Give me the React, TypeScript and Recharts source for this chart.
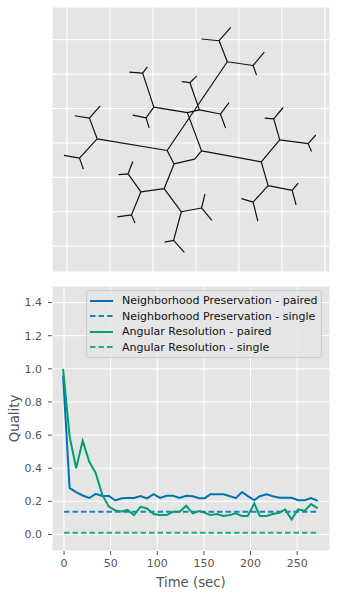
import React from "react";
import {
  CartesianGrid,
  Label,
  Legend,
  Line,
  LineChart,
  XAxis,
  YAxis,
} from "recharts";

// ---- tree drawing (top panel) ----
const treeNodes: [string, number, number][] = [
  ["A", -0.67, -0.22],
  ["B", -0.51, -0.61],
  ["C", -0.03, -0.47],
  ["E", 0.13, -0.23],
  ["P", -0.2, 0.88],
  ["Q", 0.08, 0.96],
  ["Qt", -0.14, 1.75],
  ["Qt1", -0.33, 1.78],
  ["Qt2", 0.02, 1.95],
  ["Qr", 0.57, 0.84],
  ["Qr1", 0.77, 1.17],
  ["Qr2", 0.69, 0.43],
  ["UL", -0.98, 1.04],
  ["ULu", -1.24, 2.03],
  ["ULu1", -1.55, 2.06],
  ["ULu2", -1.13, 2.21],
  ["ULd", -1.16, 0.73],
  ["ULd1", -1.47, 0.81],
  ["ULd2", -1.09, 0.44],
  ["L", -2.3, 0.12],
  ["Lu", -2.48, 0.72],
  ["Lu1", -2.82, 0.79],
  ["Lu2", -2.23, 1.08],
  ["Ld", -2.71, -0.44],
  ["Ld1", -3.07, -0.36],
  ["Ld2", -2.62, -0.76],
  ["T", 0.73, 2.36],
  ["Tu", 0.54, 2.97],
  ["Tu1", 0.13, 3.02],
  ["Tu2", 0.81, 3.36],
  ["Tr", 1.33, 2.25],
  ["Tr1", 1.59, 2.64],
  ["Tr2", 1.41, 1.97],
  ["R", 1.52, -0.55],
  ["Ru", 1.95, 0.09],
  ["Ruu", 1.81, 0.7],
  ["Ruu1", 1.6, 0.72],
  ["Ruu2", 2.03, 1.03],
  ["Rur", 2.61, -0.02],
  ["Rur1", 2.79, 0.23],
  ["Rur2", 2.69, -0.25],
  ["Rd", 1.68, -1.24],
  ["Rdr", 2.24, -1.38],
  ["Rdr1", 2.38, -1.17],
  ["Rdr2", 2.33, -1.8],
  ["Rdl", 1.33, -1.72],
  ["Rdl1", 1.06, -1.62],
  ["Rdl2", 1.44, -2.27],
  ["D", -0.74, -1.33],
  ["Dl", -1.28, -1.42],
  ["Dlu", -1.58, -0.9],
  ["Dlu1", -1.8, -0.92],
  ["Dlu2", -1.47, -0.54],
  ["Dld", -1.5, -2.09],
  ["Dld1", -1.83, -2.15],
  ["Dld2", -1.42, -2.33],
  ["Dr", -0.34, -2.0],
  ["Drr", 0.13, -1.89],
  ["Drr1", 0.21, -1.49],
  ["Drr2", 0.37, -2.25],
  ["Drd", -0.52, -2.83],
  ["Drd1", -0.73, -2.88],
  ["Drd2", -0.27, -3.18],
];

const treeEdges = [
  "A-L", "A-T", "A-B", "B-C", "C-E", "B-D", "E-R", "E-P", "P-UL", "P-Q",
  "Q-Qt", "Qt-Qt1", "Qt-Qt2", "Q-Qr", "Qr-Qr1", "Qr-Qr2",
  "UL-ULu", "ULu-ULu1", "ULu-ULu2", "UL-ULd", "ULd-ULd1", "ULd-ULd2",
  "L-Lu", "Lu-Lu1", "Lu-Lu2", "L-Ld", "Ld-Ld1", "Ld-Ld2",
  "T-Tu", "Tu-Tu1", "Tu-Tu2", "T-Tr", "Tr-Tr1", "Tr-Tr2",
  "R-Ru", "Ru-Ruu", "Ruu-Ruu1", "Ruu-Ruu2", "Ru-Rur", "Rur-Rur1", "Rur-Rur2",
  "R-Rd", "Rd-Rdr", "Rdr-Rdr1", "Rdr-Rdr2", "Rd-Rdl", "Rdl-Rdl1", "Rdl-Rdl2",
  "D-Dl", "Dl-Dlu", "Dlu-Dlu1", "Dlu-Dlu2", "Dl-Dld", "Dld-Dld1", "Dld-Dld2",
  "D-Dr", "Dr-Drr", "Drr-Drr1", "Drr-Drr2", "Dr-Drd", "Drd-Drd1", "Drd-Drd2",
];

const treeTicks = [-3, -2, -1, 0, 1, 2, 3];

// ---- quality over time (bottom panel) ----
const times = [
  -1, 6, 13, 20, 27, 34, 41, 48, 55, 62, 68, 75, 82, 89, 96, 103, 110, 117,
  124, 131, 138, 145, 151, 157, 164, 171, 178, 184, 191, 197, 204, 210, 217,
  224, 231, 237, 244, 251, 258, 265, 272,
];
const npPaired = [
  0.96, 0.28, 0.255, 0.235, 0.22, 0.245, 0.232, 0.232, 0.205, 0.218, 0.22,
  0.22, 0.232, 0.218, 0.243, 0.221, 0.233, 0.233, 0.221, 0.233, 0.231, 0.219,
  0.219, 0.243, 0.243, 0.243, 0.231, 0.219, 0.256, 0.231, 0.207, 0.231, 0.243,
  0.231, 0.221, 0.221, 0.221, 0.207, 0.207, 0.219, 0.203,
];
const arPaired = [
  1.0, 0.59, 0.4, 0.565, 0.44, 0.37, 0.24, 0.168, 0.145, 0.138, 0.148, 0.117,
  0.167, 0.157, 0.123, 0.117, 0.117, 0.137, 0.137, 0.173, 0.127, 0.141, 0.131,
  0.117, 0.123, 0.111, 0.117, 0.127, 0.111, 0.111, 0.187, 0.111, 0.111, 0.123,
  0.131, 0.151, 0.091, 0.151, 0.143, 0.183, 0.157,
];
const singleTimes = [0, 272];
const npSingle = [0.137, 0.137];
const arSingle = [0.01, 0.01];

const xTicks = [0, 50, 100, 150, 200, 250];
const yTicks = [0, 0.2, 0.4, 0.6, 0.8, 1.0, 1.2, 1.4];

const seriesLabels = [
  "Neighborhood Preservation - paired",
  "Neighborhood Preservation - single",
  "Angular Resolution - paired",
  "Angular Resolution - single",
];
const seriesColors = ["#0072B2", "#1f7fc2", "#009E73", "#23a987"];
const seriesDashed = [false, true, false, true];

const FONT = "'DejaVu Sans', sans-serif";
const BG = "#E5E5E5";
const DASH = "5.5 3";

const nodeMap = new Map(treeNodes.map(([id, x, y]) => [id, { x, y }]));
const treeLine = treeEdges.flatMap((e) => {
  const [a, b] = e.split("-").map((id) => nodeMap.get(id)!);
  return [
    { x: a.x, y: a.y },
    { x: b.x, y: b.y },
    { x: b.x, y: null },
  ];
});

const pairedRows = times.map((t, i) => ({ t, np: npPaired[i], ar: arPaired[i] }));
const singleRows = singleTimes.map((t, i) => ({ t, np: npSingle[i], ar: arSingle[i] }));

const tickStyle = { fill: "#555", fontSize: 11, fontFamily: FONT };
const hiddenTick = { fill: "none", fontSize: 1 };

const LegendBox = () => (
  <div
    style={{
      width: 236,
      boxSizing: "border-box",
      padding: "2px 0 2px 3px",
      background: "rgba(229,229,229,0.8)",
      border: "1px solid #ccc",
      borderRadius: 3,
      fontFamily: FONT,
      fontSize: 11,
      color: "#111",
    }}
  >
    {seriesLabels.map((label, i) => (
      <div key={label} style={{ display: "flex", alignItems: "center", height: 15.5 }}>
        <svg width={32} height={8} style={{ flexShrink: 0 }}>
          <line
            x1={0}
            x2={23}
            y1={4}
            y2={4}
            stroke={seriesColors[i]}
            strokeWidth={2}
            strokeDasharray={seriesDashed[i] ? DASH : undefined}
          />
        </svg>
        <span style={{ whiteSpace: "nowrap" }}>{label}</span>
      </div>
    ))}
  </div>
);

const App = () => {
  return (
    <div
      style={{
        position: "absolute",
        left: 0,
        top: 0,
        width: 337,
        height: 594,
        background: "#fff",
        fontFamily: FONT,
      }}
    >
      <div style={{ position: "absolute", left: 0, top: 0 }}>
        <LineChart width={337} height={273} margin={{ top: 7, right: 7, bottom: 0, left: 51 }}>
          <CartesianGrid stroke="#fff" strokeWidth={1} fill={BG} />
          <XAxis
            dataKey="x"
            type="number"
            domain={[-3.35, 3.12]}
            ticks={treeTicks}
            allowDataOverflow
            height={1}
            tick={hiddenTick}
            tickFormatter={() => ""}
            axisLine={false}
            tickLine={false}
          />
          <YAxis
            dataKey="y"
            type="number"
            domain={[-3.75, 3.95]}
            ticks={treeTicks}
            allowDataOverflow
            width={1}
            tick={hiddenTick}
            tickFormatter={() => ""}
            axisLine={false}
            tickLine={false}
          />
          <Line
            data={treeLine}
            dataKey="y"
            stroke="#111"
            strokeWidth={1.2}
            dot={false}
            activeDot={false}
            connectNulls={false}
            isAnimationActive={false}
          />
        </LineChart>
      </div>

      <div style={{ position: "absolute", left: 0, top: 270 }}>
        <LineChart width={337} height={324} margin={{ top: 16, right: 7, bottom: 0, left: 0 }}>
          <CartesianGrid stroke="#fff" strokeWidth={1} fill={BG} />
          <XAxis
            dataKey="t"
            type="number"
            domain={[-12.9, 285.2]}
            ticks={xTicks}
            allowDataOverflow
            height={43}
            tick={tickStyle}
            tickSize={4}
            tickMargin={4}
            axisLine={false}
            tickLine={{ stroke: "#555" }}
          >
            <Label
              content={({ viewBox }: any) => (
                <text
                  x={viewBox.x + viewBox.width / 2}
                  y={viewBox.y + 36}
                  textAnchor="middle"
                  fill="#555"
                  fontSize={13.3}
                  fontFamily={FONT}
                >
                  Time (sec)
                </text>
              )}
            />
          </XAxis>
          <YAxis
            type="number"
            domain={[-0.1, 1.5]}
            ticks={yTicks}
            allowDataOverflow
            width={52}
            tick={tickStyle}
            tickSize={4}
            tickMargin={6}
            tickFormatter={(v: number) => v.toFixed(1)}
            axisLine={false}
            tickLine={{ stroke: "#555" }}
          >
            <Label
              content={({ viewBox }: any) => {
                const cx = 14;
                const cy = viewBox.y + viewBox.height / 2;
                return (
                  <text
                    x={cx}
                    y={cy}
                    transform={`rotate(-90, ${cx}, ${cy})`}
                    textAnchor="middle"
                    dominantBaseline="central"
                    fill="#555"
                    fontSize={13.3}
                    fontFamily={FONT}
                  >
                    Quality
                  </text>
                );
              }}
            />
          </YAxis>
          <Legend
            layout="horizontal"
            verticalAlign="middle"
            align="center"
            wrapperStyle={{ left: 86, top: 20, width: 238 }}
            content={() => <LegendBox />}
          />
          <Line
            data={pairedRows}
            dataKey="np"
            stroke={seriesColors[0]}
            strokeWidth={2}
            dot={false}
            activeDot={false}
            isAnimationActive={false}
          />
          <Line
            data={singleRows}
            dataKey="np"
            stroke={seriesColors[1]}
            strokeWidth={2}
            strokeDasharray={DASH}
            dot={false}
            activeDot={false}
            isAnimationActive={false}
          />
          <Line
            data={pairedRows}
            dataKey="ar"
            stroke={seriesColors[2]}
            strokeWidth={2}
            dot={false}
            activeDot={false}
            isAnimationActive={false}
          />
          <Line
            data={singleRows}
            dataKey="ar"
            stroke={seriesColors[3]}
            strokeWidth={2}
            strokeDasharray={DASH}
            dot={false}
            activeDot={false}
            isAnimationActive={false}
          />
        </LineChart>
      </div>
    </div>
  );
};

export default App;
